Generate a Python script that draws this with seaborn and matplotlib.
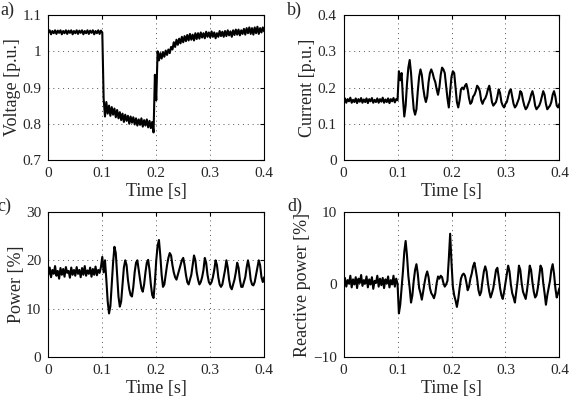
# -*- coding: utf-8 -*-
# step response of the converter: voltage, current, active and reactive power

import numpy as np
import pandas as pd
import matplotlib
matplotlib.use("Agg")
import matplotlib.pyplot as plt
import matplotlib.ticker as mticker
import seaborn as sns

# sampled every 2.5 ms from 0 to 0.4 s (rows of 10 samples = 25 ms)
voltage = [
    1.052, 1.058, 1.047, 1.056, 1.050, 1.058, 1.048, 1.057, 1.051, 1.058,
    1.047, 1.056, 1.050, 1.058, 1.048, 1.057, 1.051, 1.058, 1.047, 1.056,
    1.050, 1.058, 1.048, 1.057, 1.051, 1.058, 1.047, 1.056, 1.050, 1.058,
    1.048, 1.057, 1.051, 1.058, 1.047, 1.056, 1.050, 1.058, 1.048, 1.057,
    1.052, 0.870, 0.820, 0.860, 0.828, 0.850, 0.822, 0.846, 0.825, 0.842,
    0.818, 0.838, 0.815, 0.832, 0.810, 0.828, 0.805, 0.825, 0.808, 0.822,
    0.800, 0.820, 0.803, 0.818, 0.798, 0.815, 0.795, 0.812, 0.797, 0.815,
    0.792, 0.810, 0.795, 0.812, 0.790, 0.808, 0.788, 0.805, 0.776, 0.935,
    0.865, 1.000, 0.975, 0.995, 0.980, 0.998, 0.985, 1.002, 0.990, 1.005,
    0.995, 1.012, 1.005, 1.025, 1.012, 1.032, 1.018, 1.035, 1.022, 1.040,
    1.025, 1.042, 1.028, 1.045, 1.030, 1.048, 1.032, 1.046, 1.030, 1.050,
    1.034, 1.050, 1.035, 1.052, 1.038, 1.050, 1.036, 1.054, 1.040, 1.052,
    1.038, 1.055, 1.040, 1.052, 1.036, 1.050, 1.040, 1.056, 1.042, 1.054,
    1.040, 1.056, 1.042, 1.058, 1.044, 1.055, 1.040, 1.058, 1.045, 1.060,
    1.046, 1.060, 1.044, 1.058, 1.048, 1.062, 1.046, 1.064, 1.050, 1.066,
    1.048, 1.064, 1.046, 1.066, 1.050, 1.068, 1.048, 1.064, 1.052, 1.066,
    1.055,
]
current = [
    0.160, 0.170, 0.158, 0.168, 0.162, 0.172, 0.158, 0.166, 0.160, 0.170,
    0.157, 0.168, 0.161, 0.171, 0.158, 0.167, 0.160, 0.170, 0.157, 0.168,
    0.162, 0.171, 0.158, 0.166, 0.160, 0.170, 0.158, 0.168, 0.161, 0.172,
    0.158, 0.167, 0.160, 0.170, 0.157, 0.168, 0.162, 0.171, 0.159, 0.168,
    0.165, 0.245, 0.220, 0.240, 0.170, 0.120, 0.150, 0.210, 0.255, 0.276,
    0.240, 0.185, 0.140, 0.125, 0.140, 0.190, 0.230, 0.250, 0.235, 0.200,
    0.175, 0.160, 0.175, 0.215, 0.240, 0.250, 0.240, 0.225, 0.215, 0.195,
    0.180, 0.200, 0.235, 0.255, 0.250, 0.240, 0.205, 0.170, 0.145, 0.190,
    0.230, 0.245, 0.240, 0.200, 0.160, 0.145, 0.165, 0.195, 0.200, 0.195,
    0.205, 0.210, 0.195, 0.170, 0.155, 0.160, 0.175, 0.180, 0.190, 0.205,
    0.200, 0.190, 0.165, 0.155, 0.165, 0.170, 0.180, 0.195, 0.205, 0.185,
    0.160, 0.150, 0.155, 0.160, 0.175, 0.195, 0.185, 0.160, 0.150, 0.145,
    0.155, 0.160, 0.175, 0.190, 0.195, 0.175, 0.155, 0.145, 0.150, 0.160,
    0.170, 0.190, 0.185, 0.165, 0.150, 0.140, 0.145, 0.155, 0.165, 0.180,
    0.190, 0.175, 0.150, 0.140, 0.145, 0.150, 0.160, 0.175, 0.190, 0.180,
    0.155, 0.140, 0.145, 0.150, 0.160, 0.180, 0.190, 0.175, 0.150, 0.145,
    0.155,
]
power = [
    17.0, 18.5, 16.5, 18.0, 17.2, 18.8, 16.8, 17.8, 16.2, 18.4,
    17.0, 18.2, 16.6, 18.6, 17.4, 17.8, 16.4, 18.5, 17.0, 18.0,
    16.8, 18.6, 17.2, 18.0, 16.5, 18.4, 17.0, 18.8, 16.8, 17.9,
    17.2, 18.5, 16.6, 18.2, 17.0, 18.7, 16.9, 18.0, 17.4, 18.6,
    20.7, 17.5, 20.0, 16.0, 11.5, 9.0, 10.5, 15.0, 19.5, 22.8,
    21.5, 17.0, 12.5, 10.4, 11.5, 15.0, 18.5, 20.0, 19.0, 16.0,
    14.0, 12.8, 12.5, 14.5, 17.5, 19.5, 20.0, 18.0, 16.0, 14.2,
    13.5, 15.0, 17.5, 19.5, 20.1, 18.0, 15.0, 12.8, 12.2, 15.5,
    20.0, 23.0, 24.2, 21.0, 17.0, 14.5, 15.0, 17.0, 19.0, 20.5,
    21.5, 21.0, 19.0, 17.5, 16.5, 16.0, 17.0, 18.0, 19.0, 20.0,
    20.5, 19.0, 17.0, 15.5, 15.0, 16.0, 17.0, 19.0, 21.0, 20.0,
    17.5, 16.0, 15.0, 15.5, 16.5, 18.0, 20.5, 19.5, 17.0, 15.5,
    15.0, 15.5, 16.5, 18.0, 20.0, 19.0, 16.5, 15.0, 14.5, 15.0,
    16.5, 18.0, 20.0, 18.5, 16.0, 14.5, 14.0, 15.0, 16.0, 17.5,
    19.5, 18.5, 16.0, 14.5, 14.5, 15.5, 16.5, 18.5, 20.0, 18.5,
    16.0, 15.0, 14.8, 15.5, 17.0, 18.5, 20.0, 19.0, 16.5, 15.5,
    16.5,
]
reactive = [
    0.2, 0.9, -0.3, 0.6, 0.1, 1.2, -0.4, 0.7, 0.0, 1.0,
    -0.5, 0.8, 0.2, 1.3, -0.2, 0.6, 0.1, 1.1, -0.4, 0.7,
    0.0, 1.0, -0.6, 0.5, 0.2, 1.2, -0.3, 0.8, -0.1, 0.9,
    -0.5, 0.7, 0.1, 1.1, -0.4, 0.6, 0.0, 1.2, -0.3, 0.8,
    0.1, -4.0, -2.8, -0.5, 1.8, 4.5, 6.0, 4.0, 1.2, -0.5,
    -2.5, -1.5, 0.5, 2.0, 2.8, 1.5, -0.5, -1.2, -2.1, -1.0,
    0.2, 1.2, 1.8, 1.0, -0.5, -1.2, -1.5, -1.9, -1.2, 0.2,
    1.1, 0.8, 1.2, 1.0, 0.2, -0.3, 0.0, 0.5, 3.5, 7.0,
    3.0, -0.3, -1.5, -2.2, -3.1, -2.0, -0.5, 0.8, 1.3, 1.5,
    1.2, 0.3, -0.8, -0.3, 0.8, 1.5, 2.5, 3.0, 2.0, 0.8,
    -0.8, -1.5, -1.0, 0.5, 1.8, 2.5, 1.8, 0.2, -1.0, -1.8,
    -1.2, -0.5, 0.8, 2.0, 2.3, 1.0, -0.5, -1.5, -2.0, -1.0,
    0.2, 1.5, 2.6, 1.8, 0.0, -1.2, -1.8, -2.5, -1.0, 0.5,
    2.6, 2.0, 0.2, -1.0, -1.5, -2.0, -0.8, 0.8, 2.6, 2.0,
    0.3, -1.0, -1.8, -1.5, -0.5, 1.0, 2.6, 2.2, 0.2, -1.2,
    -2.8, -1.5, -0.5, 0.5, 2.0, 2.8, 1.5, -0.5, -1.8, -1.2,
    -0.5,
]

panel_tags = ["a)", "b)", "c)", "d)"]
y_labels = ["Voltage [p.u.]", "Current [p.u.]", "Power [%]", "Reactive power [%]"]
y_limits = [(0.7, 1.1), (0, 0.4), (0, 30), (-10, 10)]
y_ticks = [[0.7, 0.8, 0.9, 1.0, 1.1], [0, 0.1, 0.2, 0.3, 0.4], [0, 10, 20, 30], [-10, 0, 10]]
x_ticks = [0, 0.1, 0.2, 0.3, 0.4]

sns.set_theme(style="white")
plt.rcParams["font.family"] = ["Liberation Serif", "DejaVu Serif"]
plt.rcParams["axes.unicode_minus"] = True


def fmt(v, pos):
    return f"{v:g}".replace("-", "\u2212")


def main():
    series = [voltage, current, power, reactive]
    fig, axes = plt.subplots(2, 2, figsize=(5.72, 3.97), dpi=100)
    fig.subplots_adjust(left=0.0845, right=0.978, bottom=0.101, top=0.962,
                        wspace=0.368, hspace=0.359)

    for ax, vals, ylab, ylim, yt in zip(axes.flat, series, y_labels,
                                        y_limits, y_ticks):
        df = pd.DataFrame({"t": np.linspace(0, 0.4, len(vals)), "v": vals})
        sns.lineplot(data=df, x="t", y="v", ax=ax, color="black", lw=1.5)
        ax.set_xlim(0, 0.4)
        ax.set_ylim(*ylim)
        ax.set_xticks(x_ticks)
        ax.set_yticks(yt)
        ax.xaxis.set_major_formatter(mticker.FuncFormatter(fmt))
        ax.yaxis.set_major_formatter(mticker.FuncFormatter(fmt))
        ax.set_xlabel("Time [s]", fontsize=13, labelpad=2)
        ax.set_ylabel(ylab, fontsize=13, labelpad=1)
        ax.tick_params(direction="in", top=True, right=True, length=3,
                       width=0.8, labelsize=11, color="black", pad=5)
        ax.grid(True, linestyle=(0, (1, 4)), color="#555555", lw=0.7)
        for sp in ax.spines.values():
            sp.set_color("black")
            sp.set_linewidth(0.8)

    # panel tags
    fig.text(0.0, 0.975, panel_tags[0], fontsize=13, va="center", ha="left")
    fig.text(0.502, 0.975, panel_tags[1], fontsize=13, va="center", ha="left")
    fig.text(-0.004, 0.479, panel_tags[2], fontsize=13, va="center", ha="left")
    fig.text(0.502, 0.479, panel_tags[3], fontsize=13, va="center", ha="left")

    fig.savefig("out.png", dpi=100)


if __name__ == "__main__":
    main()
